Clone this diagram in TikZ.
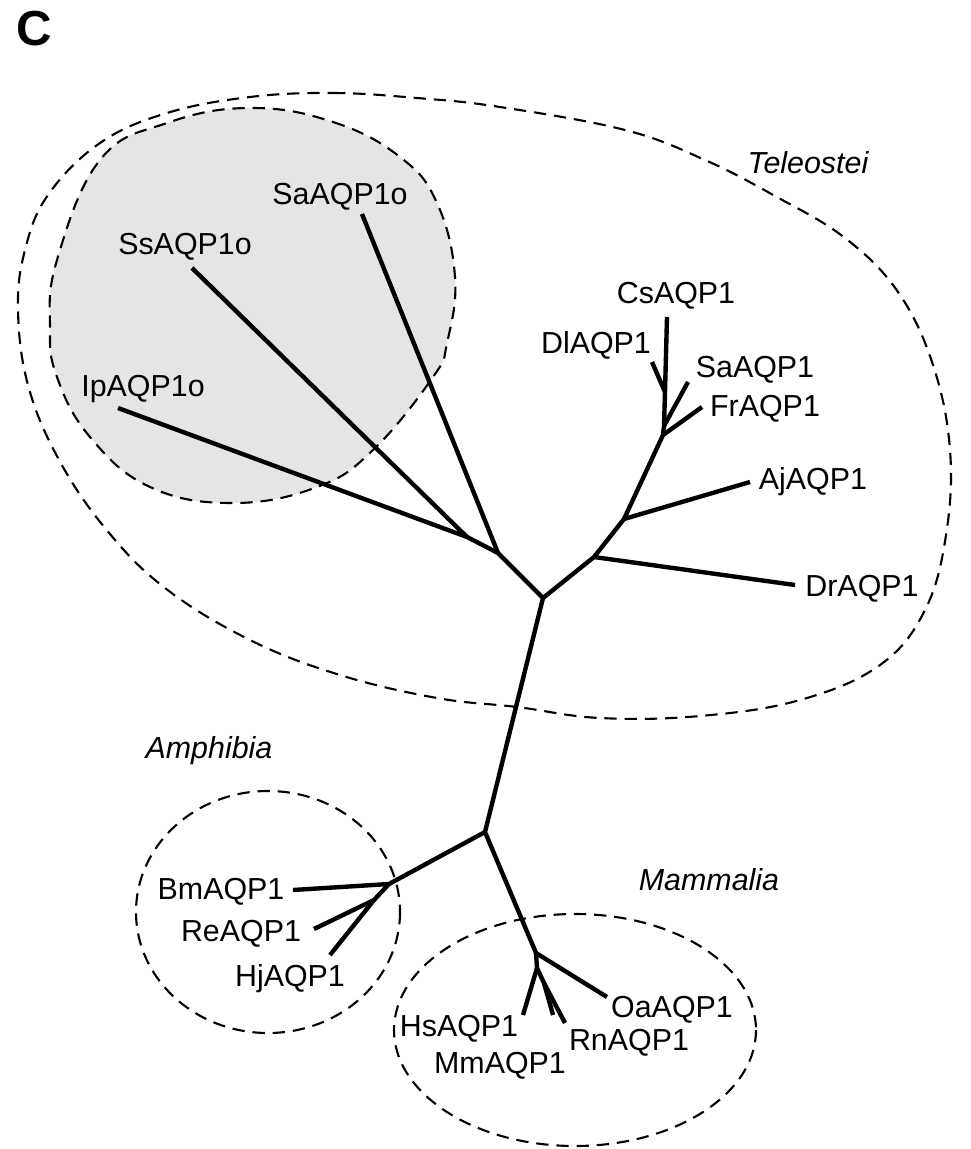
\documentclass[tikz,border=0pt]{standalone}
\usepackage{fontspec}
\setmainfont{Liberation Sans}
\definecolor{cladegrey}{RGB}{229,229,229}
\begin{document}
\begin{tikzpicture}[x=0.02cm,y=-0.02cm,
  branch/.style={line width=2.5pt, line join=round, line cap=butt},
  clade/.style={line width=1.2pt, dash pattern=on 7pt off 4.5pt},
  lbl/.style={font=\fontsize{17.3}{20}\selectfont, inner sep=0pt, text height=12.4pt, text depth=0pt},
  grp/.style={lbl, font=\fontsize{17.3}{20}\selectfont\itshape}]
\useasboundingbox (0,0) rectangle (970,1149);

% panel letter
\node[font=\fontsize{28}{30}\selectfont\bfseries, inner sep=0pt] (panel) at (34,29) {C};

% grey clade (AQP1o)
\fill[cladegrey] plot[smooth cycle, tension=0.7] coordinates {
 (250,108) (333,122) (400,157) (437,203) (455,277) (447,343) (433,377)
 (373,450) (317,487) (233,503) (150,487) (90,437) (57,377) (50,327)
 (57,260) (100,160) (167,123)};
\draw[clade] plot[smooth cycle, tension=0.7] coordinates {
 (250,108) (333,122) (400,157) (437,203) (455,277) (447,343) (433,377)
 (373,450) (317,487) (233,503) (150,487) (90,437) (57,377) (50,327)
 (57,260) (100,160) (167,123)};

% Teleostei outline
\draw[clade] plot[smooth cycle, tension=0.65] coordinates {
 (250,97) (333,93) (417,98) (500,107) (625,130) (705,160) (775,196)
 (845,238) (898,292) (933,365) (950,450) (946,535) (925,610) (880,665)
 (800,700) (700,716) (600,718) (517,707) (437,698) (340,675) (250,640)
 (165,588) (105,528) (58,458) (28,385) (18,310) (25,250)
 (48,195) (100,143) (167,113)};

% Amphibia and Mammalia outlines
\draw[clade] (268,912) ellipse [x radius=132, y radius=121];
\draw[clade] (575,1030) ellipse [x radius=181, y radius=116];

% tree coordinates
\coordinate (T0) at (543,598);
\coordinate (L1) at (498,553);
\coordinate (L2) at (467,537);
\coordinate (ip) at (118,408);
\coordinate (ss) at (192,268);
\coordinate (sao) at (362,214);
\coordinate (R1) at (594,557);
\coordinate (dr) at (795,585);
\coordinate (R2) at (624,519);
\coordinate (aj) at (750,482);
\coordinate (R3) at (663,435);
\coordinate (fr) at (702,407);
\coordinate (R4) at (664,426);
\coordinate (sa) at (688,382);
\coordinate (R5) at (665,392);
\coordinate (dl) at (652,362);
\coordinate (cs) at (667,317);
\coordinate (M0) at (485,832);
\coordinate (A1) at (389,884);
\coordinate (bm) at (293,890);
\coordinate (A2) at (374,900);
\coordinate (re) at (314,929);
\coordinate (hj) at (330,955);
\coordinate (M1) at (536,953);
\coordinate (oa) at (607,997);
\coordinate (M2) at (537,968);
\coordinate (hs) at (523,1015);
\coordinate (M3) at (544,983);
\coordinate (mm) at (553,1015);
\coordinate (rn) at (565,1023);

% branches
\draw[branch] (ip) -- (L2) -- (L1) -- (T0) -- (R1) -- (R2) -- (R3) -- (R4) -- (R5) -- (cs);
\draw[branch] (ss) -- (L2);
\draw[branch] (sao) -- (L1);
\draw[branch] (R1) -- (dr);
\draw[branch] (R2) -- (aj);
\draw[branch] (R3) -- (fr);
\draw[branch] (R4) -- (sa);
\draw[branch] (R5) -- (dl);
\draw[branch] (T0) -- (M0) -- (M1) -- (M2) -- (M3) -- (rn);
\draw[branch] (M0) -- (A1) -- (bm);
\draw[branch] (A1) -- (A2) -- (re);
\draw[branch] (A2) -- (hj);
\draw[branch] (M1) -- (oa);
\draw[branch] (M2) -- (hs);
\draw[branch] (M3) -- (mm);

% leaf labels
\node[lbl] (tSaAQP1o) at (340,194) {SaAQP1o};
\node[lbl] (tSsAQP1o) at (185,244) {SsAQP1o};
\node[lbl] (tIpAQP1o) at (143,386) {IpAQP1o};
\node[lbl] (tCsAQP1) at (676,293) {CsAQP1};
\node[lbl] (tDlAQP1) at (596,343) {DlAQP1};
\node[lbl] (tSaAQP1) at (755,367) {SaAQP1};
\node[lbl] (tFrAQP1) at (765,406) {FrAQP1};
\node[lbl] (tAjAQP1) at (813,479) {AjAQP1};
\node[lbl] (tDrAQP1) at (862,586) {DrAQP1};
\node[lbl] (tBmAQP1) at (221,889) {BmAQP1};
\node[lbl] (tReAQP1) at (241,931) {ReAQP1};
\node[lbl] (tHjAQP1) at (290,976) {HjAQP1};
\node[lbl] (tHsAQP1) at (459,1026) {HsAQP1};
\node[lbl] (tMmAQP1) at (500,1063) {MmAQP1};
\node[lbl] (tRnAQP1) at (629,1040) {RnAQP1};
\node[lbl] (tOaAQP1) at (672,1007) {OaAQP1};

% group labels
\node[grp] (gTel) at (808,163) {Teleostei};
\node[grp] (gAmp) at (209,748) {Amphibia};
\node[grp] (gMam) at (709,880) {Mammalia};
\end{tikzpicture}
\end{document}
